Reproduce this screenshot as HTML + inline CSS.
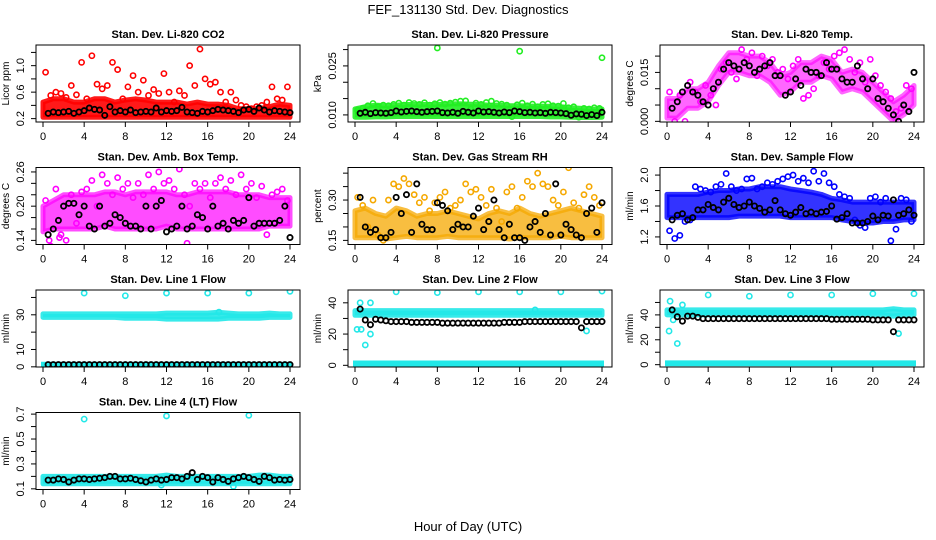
<!DOCTYPE html>
<html><head><meta charset="utf-8">
<style>
html,body{margin:0;padding:0;background:#fff;}
svg{display:block;font-family:"Liberation Sans",Arial,sans-serif;}
</style></head>
<body>
<svg id="chart" width="936" height="540" viewBox="0 0 936 540" xmlns="http://www.w3.org/2000/svg">
<rect x="0" y="0" width="936" height="540" fill="#fff"/>
<text x="468" y="14" text-anchor="middle" font-size="13">FEF_131130  Std. Dev. Diagnostics</text>
<text x="468" y="531" text-anchor="middle" font-size="13">Hour of Day (UTC)</text>
</svg>
<script>
// ---------- data ----------
const xTicks = [0,4,8,12,16,20,24];
const titles = ["Stan. Dev. Li-820 CO2","Stan. Dev. Li-820 Pressure","Stan. Dev. Li-820 Temp.","Stan. Dev. Amb. Box Temp.","Stan. Dev. Gas Stream RH","Stan. Dev. Sample Flow","Stan. Dev. Line 1 Flow","Stan. Dev. Line 2 Flow","Stan. Dev. Line 3 Flow","Stan. Dev. Line 4 (LT) Flow"];
const yLabels = ["Licor ppm","kPa","degrees C","degrees C","percent","ml/min","ml/min","ml/min","ml/min","ml/min"];
const yDomains = [[0.149,1.312],[0.00783,0.0314],[-0.0002,0.0234],[0.1328,0.2678],[0.1347,0.421],[1.102,2.098],[-0.1,44.3],[-1.08,48.2],[-1.87,60],[0.0946,0.713]];
const yTicks = [[0.2,0.4,0.6,0.8,1.0,1.2],[0.010,0.015,0.020,0.025,0.030],[0,0.005,0.010,0.015,0.020],[0.14,0.16,0.18,0.20,0.22,0.24,0.26],[0.15,0.20,0.25,0.30,0.35,0.40],[1.2,1.4,1.6,1.8,2.0],[0,10,20,30,40],[0,10,20,30,40],[0,10,20,30,40,50],[0.1,0.2,0.3,0.4,0.5,0.6,0.7]];
const yTickLabels = [["0.2","","0.6","","1.0",""],["0.010","","","0.025",""],["0.000","","","0.015",""],["0.14","","","0.20","","","0.26"],["0.15","","","0.30","",""],["1.2","","1.6","","2.0"],["0","10","","30",""],["0","","20","","40"],["0","","20","","40",""],["0.1","","0.3","","0.5","","0.7"]];
const colors = ["#ff0000","#22ee22","#ff00ff","#ff00ff","#f5a800","#0000ff","#22e8e8","#22e8e8","#22e8e8","#22e8e8"];
const bandOpacity = [0.9,0.9,0.6,0.7,0.75,0.8,0.9,0.9,0.9,0.9];

// hourly dense-band bounds (x = 0..24)
const p1Lo=[0.22,0.22,0.22,0.22,0.22,0.22,0.22,0.22,0.22,0.22,0.22,0.22,0.22,0.22,0.22,0.22,0.22,0.22,0.22,0.22,0.22,0.22,0.22,0.22,0.22];
const p1Hi=[0.45,0.5,0.5,0.45,0.45,0.5,0.5,0.45,0.48,0.5,0.48,0.45,0.45,0.45,0.42,0.45,0.42,0.42,0.4,0.35,0.35,0.35,0.38,0.42,0.4];
const p2Lo=[0.0093,0.0093,0.0094,0.0094,0.0095,0.0095,0.0095,0.0095,0.0095,0.0095,0.0095,0.0095,0.0095,0.0095,0.0095,0.0095,0.0095,0.0095,0.0095,0.0094,0.0094,0.0093,0.0092,0.0092,0.0093];
const p2Hi=[0.0118,0.0125,0.013,0.0128,0.013,0.0132,0.0132,0.0132,0.0132,0.0133,0.0134,0.0133,0.0132,0.013,0.013,0.0128,0.0128,0.0127,0.0127,0.0126,0.0125,0.0122,0.012,0.0118,0.0118];
const p3Lo=[0.001,0.001,0.004,0.004,0.006,0.011,0.015,0.015,0.014,0.014,0.012,0.008,0.009,0.012,0.012,0.014,0.013,0.009,0.010,0.009,0.006,0.003,0.000,0.002,0.005];
const p3Hi=[0.007,0.007,0.010,0.010,0.012,0.017,0.021,0.021,0.020,0.020,0.018,0.014,0.015,0.018,0.018,0.020,0.019,0.015,0.016,0.015,0.012,0.009,0.006,0.008,0.011];
const p4Lo=[0.155,0.16,0.16,0.16,0.16,0.16,0.165,0.16,0.16,0.16,0.16,0.16,0.165,0.16,0.16,0.16,0.16,0.16,0.16,0.16,0.16,0.16,0.165,0.165,0.165];
const p4Hi=[0.2,0.21,0.22,0.22,0.22,0.22,0.225,0.225,0.22,0.225,0.225,0.225,0.225,0.22,0.22,0.225,0.225,0.225,0.225,0.22,0.22,0.22,0.215,0.215,0.215];
const p5Lo=[0.16,0.16,0.16,0.155,0.16,0.165,0.16,0.16,0.16,0.165,0.16,0.16,0.16,0.16,0.16,0.155,0.16,0.16,0.16,0.16,0.165,0.16,0.16,0.16,0.16];
const p5Hi=[0.26,0.27,0.25,0.24,0.27,0.26,0.24,0.25,0.25,0.26,0.25,0.24,0.23,0.25,0.26,0.25,0.27,0.25,0.24,0.25,0.26,0.27,0.26,0.25,0.24];
const p6Lo=[1.45,1.45,1.45,1.45,1.45,1.45,1.45,1.47,1.47,1.47,1.47,1.47,1.45,1.45,1.45,1.45,1.45,1.42,1.4,1.38,1.38,1.4,1.4,1.42,1.42];
const p6Hi=[1.75,1.75,1.75,1.75,1.78,1.8,1.8,1.82,1.82,1.85,1.85,1.85,1.82,1.8,1.78,1.75,1.7,1.68,1.65,1.65,1.65,1.65,1.65,1.65,1.65];
const p7Lo=[28.5,28.5,28.5,28.5,28.5,28.5,28.5,28.5,28,28,28,28,27.5,27.5,27.5,27.5,27.5,27.5,28,28,28,28,28.5,28.5,28.5];
const p7Hi=[30.5,30.5,30.5,30.5,30.5,30.5,30.5,30.5,30.5,30.5,30.5,30.5,31,31,31,31,31,31.5,31,30.5,30.5,30.5,31,30.5,30.5];
const p8Lo=[32,32,32,32,32,32,32,32,32,32,32,32,32,32,32,32,32,32,32,32,32,32,32,32,32];
const p8Hi=[35,35,35,35,35,35,35,35,35,35,35,35,35,35,35,35,35,35,35,35,35,35,35,35,35];
const p9Lo=[40,40,40,40,40,40,40,40,40,40,40,40,40,40,40,40,40,40,40,40,40,40,39,40,40];
const p9Hi=[44,44,44,44,44,44,44,44,44,44,44,44,44,44,44,44,44,44,44,44,44,44,45,44,44];
const p10Lo=[0.14,0.14,0.14,0.14,0.14,0.14,0.14,0.14,0.14,0.14,0.14,0.14,0.14,0.14,0.14,0.14,0.14,0.14,0.14,0.14,0.14,0.14,0.14,0.14,0.14];
const p10Hi=[0.2,0.2,0.2,0.2,0.2,0.2,0.2,0.2,0.2,0.2,0.2,0.2,0.21,0.2,0.2,0.2,0.2,0.2,0.2,0.2,0.2,0.21,0.21,0.2,0.2];
const lineZeroLo=[0.3,0.3,0.3,0.3,0.3,0.3,0.3,0.3,0.3,0.3,0.3,0.3,0.3,0.3,0.3,0.3,0.3,0.3,0.3,0.3,0.3,0.3,0.3,0.3,0.3];
const lineZeroHi=[1.8,1.8,1.8,1.8,1.8,1.8,1.8,1.8,1.8,1.8,1.8,1.8,1.8,1.8,1.8,1.8,1.8,1.8,1.8,1.8,1.8,1.8,1.8,1.8,1.8];

// scattered colored points (x = 0.25, 0.75, ... 23.75)
const p1Dots=[0.9,0.55,0.6,0.58,0.52,0.7,0.56,1.05,0.5,1.15,0.72,0.65,0.7,1.05,0.94,0.5,0.68,0.85,0.6,0.78,0.55,0.64,0.58,0.88,0.6,0.45,0.62,0.55,1.0,0.7,1.25,0.8,0.72,0.75,0.6,0.45,0.6,0.48,0.4,0.38,0.35,0.38,0.4,0.45,0.68,0.5,0.48,0.68];
const p2Dots=[0.0115,0.012,0.0128,0.0135,0.0125,0.013,0.0128,0.0132,0.0136,0.013,0.0138,0.0135,0.0132,0.0137,0.013,0.0134,0.0138,0.0133,0.0136,0.0139,0.0142,0.0143,0.0118,0.0136,0.0132,0.0138,0.0142,0.0135,0.0133,0.013,0.0095,0.0131,0.0136,0.0128,0.0133,0.0125,0.0132,0.0134,0.0128,0.0127,0.0135,0.0122,0.0125,0.0093,0.012,0.0118,0.0122,0.012];
const p3Dots=[0.009,0.0,0.008,0.0,0.012,0.009,0.006,0.011,0.008,0.005,0.016,0.018,0.015,0.013,0.022,0.019,0.021,0.014,0.020,0.017,0.019,0.015,0.016,0.013,0.017,0.019,0.007,0.008,0.010,0.014,0.018,0.016,0.020,0.021,0.022,0.019,0.015,0.018,0.012,0.019,0.014,0.011,0.009,0.007,0.003,0.004,0.011,0.010];
const p4Dots=[0.21,0.13,0.23,0.15,0.14,0.22,0.17,0.225,0.23,0.245,0.2,0.255,0.24,0.22,0.25,0.23,0.24,0.215,0.24,0.22,0.255,0.23,0.26,0.24,0.245,0.23,0.265,0.22,0.2,0.24,0.23,0.24,0.215,0.24,0.25,0.23,0.245,0.22,0.255,0.23,0.24,0.215,0.235,0.15,0.22,0.225,0.23,0.21];
const p5Dots=[0.31,0.28,0.2,0.3,0.17,0.15,0.3,0.36,0.35,0.38,0.36,0.32,0.29,0.31,0.26,0.29,0.31,0.33,0.27,0.28,0.3,0.36,0.33,0.34,0.31,0.28,0.34,0.27,0.22,0.33,0.35,0.27,0.31,0.37,0.35,0.4,0.36,0.35,0.3,0.28,0.33,0.42,0.29,0.27,0.32,0.35,0.31,0.28];
const p6Dots=[1.28,1.18,1.22,1.4,1.42,1.85,1.82,1.8,1.78,1.85,1.88,2.02,1.85,1.8,1.82,1.95,1.96,1.82,1.85,1.9,1.88,1.92,1.95,1.98,2.0,1.92,1.96,1.9,2.05,1.92,2.02,1.9,1.85,1.75,1.72,1.7,1.42,1.35,1.32,1.7,1.72,1.65,1.7,1.15,1.3,1.7,1.68,1.4];

// hourly means (black, x = 0.5, 1.0, ... 24.0)
const p1Mean=[0.28,0.3,0.29,0.3,0.31,0.28,0.3,0.32,0.36,0.34,0.33,0.25,0.38,0.3,0.32,0.3,0.33,0.29,0.3,0.31,0.3,0.36,0.3,0.32,0.31,0.32,0.37,0.3,0.29,0.28,0.31,0.3,0.32,0.34,0.33,0.32,0.31,0.29,0.33,0.34,0.31,0.36,0.33,0.3,0.32,0.31,0.3,0.29];
const p2Mean=[0.0105,0.0108,0.0104,0.0107,0.0106,0.0105,0.0107,0.0112,0.0109,0.0111,0.0112,0.011,0.0108,0.011,0.0111,0.0112,0.0107,0.0106,0.0108,0.0105,0.0111,0.0108,0.0106,0.0112,0.0109,0.011,0.0108,0.0106,0.0109,0.0107,0.0112,0.011,0.0107,0.0108,0.0106,0.0107,0.0105,0.0108,0.0107,0.0106,0.0104,0.0099,0.0103,0.0102,0.0098,0.0101,0.0098,0.0108];
const p3Mean=[0.004,0.006,0.009,0.011,0.009,0.008,0.006,0.005,0.010,0.012,0.016,0.018,0.017,0.016,0.018,0.017,0.015,0.016,0.017,0.018,0.014,0.014,0.008,0.009,0.013,0.011,0.016,0.015,0.015,0.014,0.018,0.016,0.016,0.013,0.012,0.012,0.017,0.013,0.010,0.013,0.007,0.006,0.004,0.002,0.000,0.005,0.003,0.015];
const p4Mean=[0.15,0.16,0.175,0.2,0.205,0.205,0.185,0.2,0.165,0.16,0.2,0.165,0.17,0.185,0.18,0.17,0.165,0.165,0.16,0.2,0.16,0.2,0.21,0.155,0.16,0.165,0.2,0.16,0.165,0.185,0.18,0.16,0.2,0.165,0.17,0.16,0.175,0.17,0.175,0.215,0.165,0.17,0.17,0.17,0.17,0.175,0.2,0.145];
const p5Mean=[0.31,0.2,0.18,0.19,0.16,0.16,0.18,0.31,0.25,0.32,0.18,0.36,0.21,0.19,0.19,0.29,0.28,0.26,0.19,0.21,0.2,0.2,0.24,0.27,0.19,0.22,0.3,0.19,0.16,0.21,0.16,0.16,0.15,0.2,0.22,0.18,0.25,0.17,0.36,0.17,0.21,0.19,0.17,0.16,0.25,0.27,0.18,0.29];
const p6Mean=[1.42,1.48,1.5,1.42,1.45,1.55,1.55,1.62,1.58,1.55,1.65,1.7,1.62,1.58,1.6,1.65,1.6,1.57,1.52,1.55,1.67,1.55,1.5,1.48,1.52,1.58,1.5,1.52,1.5,1.52,1.53,1.6,1.43,1.45,1.5,1.38,1.38,1.38,1.4,1.47,1.42,1.48,1.47,1.68,1.48,1.5,1.55,1.48];
const p7Mean=[1.3,1.3,1.3,1.3,1.3,1.3,1.3,1.3,1.3,1.3,1.3,1.3,1.3,1.3,1.3,1.3,1.3,1.3,1.3,1.3,1.3,1.3,1.3,1.3,1.3,1.3,1.3,1.3,1.3,1.3,1.3,1.3,1.3,1.3,1.3,1.3,1.3,1.3,1.3,1.3,1.3,1.3,1.3,1.3,1.3,1.3,1.3,1.3];
const p8Mean=[36,29,26,29.5,29,28.5,28,28,28,28,27.5,27.5,27.5,27.5,27.5,27.5,27,27,27,27,27,27,27,27,27,27,27,27,27.5,27.5,27.5,27.5,28,28,28,28,28,28,28,28,28,28,28,24,28,28,28,28];
const p9Mean=[44,38.5,35,39,39,38,37,37,37,37,37,37,37,37,37,37,37,37,37,37,37,37,37,37,37,37,37,37,37,37,37,36.5,36.5,36.5,36.5,36.5,36.5,36.5,36.5,36,36,36,36,26.5,36,36,36,36];
const p10Mean=[0.17,0.17,0.18,0.175,0.155,0.17,0.18,0.18,0.175,0.18,0.185,0.19,0.2,0.2,0.18,0.18,0.185,0.175,0.165,0.155,0.17,0.18,0.17,0.175,0.19,0.19,0.18,0.2,0.23,0.175,0.2,0.19,0.155,0.19,0.175,0.16,0.18,0.19,0.2,0.19,0.175,0.16,0.2,0.19,0.17,0.175,0.17,0.175];

// outliers
const p2OutX=[8,16,24]; const p2OutY=[0.0305,0.0295,0.0275];
const p4OutX=[14,0.6,1.6]; const p4OutY=[0.135,0.14,0.145];
const p7OutX=[4,8,12,16,20,24,17.1]; const p7OutY=[42.5,41,42.5,42.5,42.5,43.5,31.5];
const p8OutX=[0.2,0.5,0.6,1,1.5,1.5,4,8,12,16,20,24,22.5,17.5]; const p8OutY=[23,40,23,13,20,40,47,46.5,47,47,47,47.5,22,35.5];
const p9OutX=[0.2,0.3,1,1.5,4,8,12,16,20,24,22.5,0.6]; const p9OutY=[27,51,17,48,56,55,56,56,57,57,25,36];
const p10OutX=[4,12,20,18.5,11.5]; const p10OutY=[0.66,0.685,0.69,0.12,0.13];

const bandsLo=[p1Lo,p2Lo,p3Lo,p4Lo,p5Lo,p6Lo,p7Lo,p8Lo,p9Lo,p10Lo];
const bandsHi=[p1Hi,p2Hi,p3Hi,p4Hi,p5Hi,p6Hi,p7Hi,p8Hi,p9Hi,p10Hi];
const dotsSeries=[p1Dots,p2Dots,p3Dots,p4Dots,p5Dots,p6Dots,null,null,null,null];
const meanSeries=[p1Mean,p2Mean,p3Mean,p4Mean,p5Mean,p6Mean,p7Mean,p8Mean,p9Mean,p10Mean];
const outX=[null,p2OutX,null,p4OutX,null,null,p7OutX,p8OutX,p9OutX,p10OutX];
const outY=[null,p2OutY,null,p4OutY,null,null,p7OutY,p8OutY,p9OutY,p10OutY];

// ---------- drawing ----------
const NS="http://www.w3.org/2000/svg";
const svg=document.getElementById('chart');
const colLeft=[36,348,660], rowTop=[45,167.5,290,412.5], BW=264, BH=77;
function mk(tag,attrs,parent){const e=document.createElementNS(NS,tag);for(const k in attrs)e.setAttribute(k,attrs[k]);parent.appendChild(e);return e;}

for(let p=0;p<10;p++){
  const L=colLeft[p%3], T=rowTop[Math.floor(p/3)];
  const g=mk('g',{},svg);
  
  
  const xs=v=>L+7+(v/24)*247;
  const [y0,y1]=yDomains[p];
  const ys=v=>T+BH-(v-y0)/(y1-y0)*BH;
  const clipId='clip'+p;
  const cp=mk('clipPath',{id:clipId},g); mk('rect',{x:L,y:T,width:BW,height:BH},cp);
  const pg=mk('g',{'clip-path':'url(#'+clipId+')'},g);
  const col=colors[p];
  const lo=bandsLo[p], hi=bandsHi[p];
  let pts=[];
  for(let i=0;i<lo.length;i++) pts.push(xs(i*24/(lo.length-1)).toFixed(1)+','+ys(hi[i]).toFixed(1));
  for(let i=lo.length-1;i>=0;i--) pts.push(xs(i*24/(lo.length-1)).toFixed(1)+','+ys(lo[i]).toFixed(1));
  const band=mk('polygon',{points:pts.join(' '),fill:col,stroke:col,'stroke-width':5,'stroke-linejoin':'round','fill-opacity':bandOpacity[p],'stroke-opacity':bandOpacity[p]},pg);
  
  
  if(p>=6 && p!==9){
    let z=[];
    for(let i=0;i<lineZeroLo.length;i++) z.push(xs(i).toFixed(1)+','+ys(lineZeroHi[i]).toFixed(1));
    for(let i=lineZeroLo.length-1;i>=0;i--) z.push(xs(i).toFixed(1)+','+ys(lineZeroLo[i]).toFixed(1));
    const zb=mk('polygon',{points:z.join(' '),fill:col,stroke:col,'stroke-width':4},pg);
    
    
  }
  const ds=dotsSeries[p];
  if(ds){ ds.forEach((v,i)=>{
    const c=mk('circle',{cx:xs(0.25+i*0.5),cy:ys(v),r:2.6,fill:'none',stroke:col,'stroke-width':1.6},pg);
    
    
  });}
  if(outX[p]){ outX[p].forEach((x,i)=>{
    const c=mk('circle',{cx:xs(x),cy:ys(outY[p][i]),r:2.6,fill:'none',stroke:col,'stroke-width':1.6},pg);
    
    
  });}
  meanSeries[p].forEach((v,i)=>{
    const c=mk('circle',{cx:xs(0.5+i*0.5),cy:ys(v),r:2.6,fill:'none',stroke:'#000','stroke-width':1.8},pg);
    
    
  });
  const box=mk('rect',{x:L,y:T,width:BW,height:BH,fill:'none',stroke:'#000','stroke-width':1},g);
  
  
  xTicks.forEach(t=>{
    mk('line',{x1:xs(t),x2:xs(t),y1:T+BH,y2:T+BH+5,stroke:'#000'},g);
    const tx=mk('text',{x:xs(t),y:T+BH+18,'text-anchor':'middle','font-size':11},g);
    tx.textContent=t;
    
    
  });
  yTicks[p].forEach((t,i)=>{
    const y=ys(t);
    mk('line',{x1:L-5,x2:L,y1:y,y2:y,stroke:'#000'},g);
    const lab=yTickLabels[p][i];
    if(lab){
      const tx=mk('text',{x:L-12,y:y,'text-anchor':'middle','font-size':11,transform:'rotate(-90 '+(L-12)+' '+y+')'},g);
      tx.textContent=lab;
      
      
    }
  });
  const yl=mk('text',{x:L-27,y:T+BH/2,'text-anchor':'middle','font-size':10,transform:'rotate(-90 '+(L-27)+' '+(T+BH/2)+')'},g);
  yl.textContent=yLabels[p];
  
  
  const tt=mk('text',{x:L+BW/2,y:T-7,'text-anchor':'middle','font-size':11,'font-weight':'bold'},g);
  tt.textContent=titles[p];
  
  
}
</script>
</body></html>
